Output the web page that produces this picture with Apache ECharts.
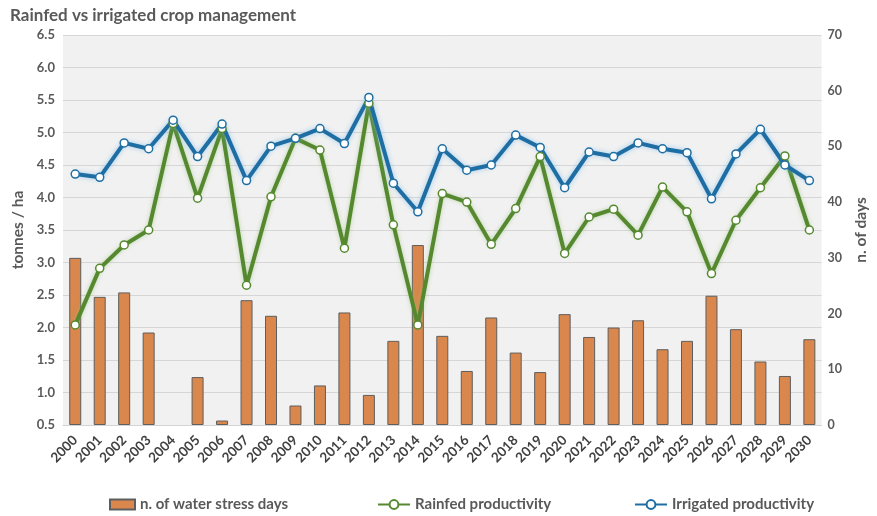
<!DOCTYPE html>
<html>
<head>
<meta charset="utf-8">
<script src="https://cdn.jsdelivr.net/npm/echarts@6/dist/echarts.min.js"></script>
<style>
  html, body { margin: 0; padding: 0; background: #ffffff; }
  #chart { width: 877px; height: 516px; }
</style>
</head>
<body>
<div id="chart"></div>
<script>
// Years on the category axis
const years = ['2000','2001','2002','2003','2004','2005','2006','2007','2008','2009',
  '2010','2011','2012','2013','2014','2015','2016','2017','2018','2019',
  '2020','2021','2022','2023','2024','2025','2026','2027','2028','2029','2030'];

// Number of water stress days (right axis)
const stressDays = [30, 23, 23.8, 16.6, 0, 8.6, 0.8, 22.4, 19.6, 3.5,
  7.1, 20.2, 5.4, 15.1, 32.3, 16, 9.7, 19.3, 13, 9.5,
  19.9, 15.8, 17.5, 18.8, 13.6, 15.1, 23.2, 17.2, 11.4, 8.8, 15.4];

// Rainfed productivity, tonnes / ha (left axis)
const rainfed = [2.04, 2.91, 3.27, 3.5, 5.14, 3.99, 5.06, 2.65, 4.01, 4.91,
  4.73, 3.22, 5.45, 3.58, 2.04, 4.06, 3.93, 3.28, 3.83, 4.63,
  3.14, 3.70, 3.82, 3.42, 4.16, 3.78, 2.83, 3.65, 4.15, 4.64, 3.5];

// Irrigated productivity, tonnes / ha (left axis)
const irrigated = [4.36, 4.31, 4.84, 4.75, 5.19, 4.63, 5.13, 4.26, 4.79, 4.91,
  5.06, 4.83, 5.54, 4.22, 3.78, 4.75, 4.42, 4.5, 4.96, 4.77,
  4.15, 4.70, 4.63, 4.84, 4.75, 4.69, 3.98, 4.67, 5.05, 4.5, 4.26];

const FONT = 'Lato, "Open Sans", sans-serif';
const TEXT = '#595959';

const chart = echarts.init(document.getElementById('chart'), null, { renderer: 'canvas' });

const legendText = { color: TEXT, fontSize: 15, fontWeight: 'bold', fontFamily: FONT };

// Zero-day years get no outline so that no sliver is drawn on the axis
const barData = stressDays.map(v => (v === 0 ? { value: v, itemStyle: { borderWidth: 0 } } : v));

chart.setOption({
  animation: false,
  backgroundColor: '#ffffff',
  title: {
    text: 'Rainfed vs irrigated crop management',
    left: 5, top: 2,
    textStyle: { color: TEXT, fontSize: 17, fontWeight: 'bold', fontFamily: FONT }
  },
  legend: [
    {
      data: [{ name: 'n. of water stress days', icon: 'rect' }],
      left: 104, top: 492, itemWidth: 25, itemHeight: 10, itemGap: 2,
      textStyle: legendText
    },
    {
      data: ['Rainfed productivity'],
      left: 372, top: 492, itemWidth: 32, itemHeight: 11,
      textStyle: legendText
    },
    {
      data: ['Irrigated productivity'],
      left: 629, top: 492, itemWidth: 32, itemHeight: 11,
      textStyle: legendText
    }
  ],
  grid: {
    left: 63, right: 38, top: 35, bottom: 91,
    show: true, backgroundColor: '#f1f1f1', borderWidth: 0
  },
  xAxis: {
    type: 'category',
    data: years,
    axisLine: { lineStyle: { color: '#d4d4d4', width: 1 } },
    axisTick: { show: false },
    axisLabel: {
      rotate: 45, interval: 0, margin: 13,
      color: '#404040', fontSize: 13.5, fontWeight: 'bold', fontFamily: FONT
    }
  },
  yAxis: [
    {
      type: 'value', min: 0.5, max: 6.5, interval: 0.5,
      name: 'tonnes / ha', nameLocation: 'middle', nameGap: 37, nameRotate: 90,
      nameTextStyle: { color: TEXT, fontSize: 15.5, fontWeight: 'bold', fontFamily: FONT },
      axisLine: { show: false }, axisTick: { show: false },
      axisLabel: {
        formatter: v => v.toFixed(1), margin: 8,
        color: TEXT, fontSize: 13, fontWeight: 'bold', fontFamily: FONT
      },
      splitLine: { lineStyle: { color: '#d6d6d6', width: 1 } }
    },
    {
      type: 'value', min: 0, max: 70, interval: 10,
      name: 'n. of days', nameLocation: 'middle', nameGap: 28, nameRotate: 90,
      nameTextStyle: { color: TEXT, fontSize: 15.5, fontWeight: 'bold', fontFamily: FONT },
      axisLine: { show: false }, axisTick: { show: false },
      axisLabel: { color: TEXT, fontSize: 12.5, fontWeight: 'bold', fontFamily: FONT, margin: 6 },
      splitLine: { show: false }
    }
  ],
  series: [
    {
      name: 'n. of water stress days',
      type: 'bar',
      yAxisIndex: 1,
      data: barData,
      barWidth: 12,
      itemStyle: { color: '#d9874c', borderColor: '#5e5e5e', borderWidth: 1 }
    },
    {
      name: 'Rainfed productivity',
      type: 'line',
      yAxisIndex: 0,
      data: rainfed,
      symbol: 'circle', symbolSize: 8,
      lineStyle: { color: '#56892f', width: 4, shadowColor: 'rgba(140,190,110,0.55)', shadowBlur: 4 },
      itemStyle: { color: '#ffffff', borderColor: '#56892f', borderWidth: 1.5 }
    },
    {
      name: 'Irrigated productivity',
      type: 'line',
      yAxisIndex: 0,
      data: irrigated,
      symbol: 'circle', symbolSize: 8,
      lineStyle: { color: '#1f6ea3', width: 4, shadowColor: 'rgba(120,185,235,0.7)', shadowBlur: 5 },
      itemStyle: { color: '#ffffff', borderColor: '#1f6ea3', borderWidth: 1.5 }
    }
  ]
});
</script>
</body>
</html>
